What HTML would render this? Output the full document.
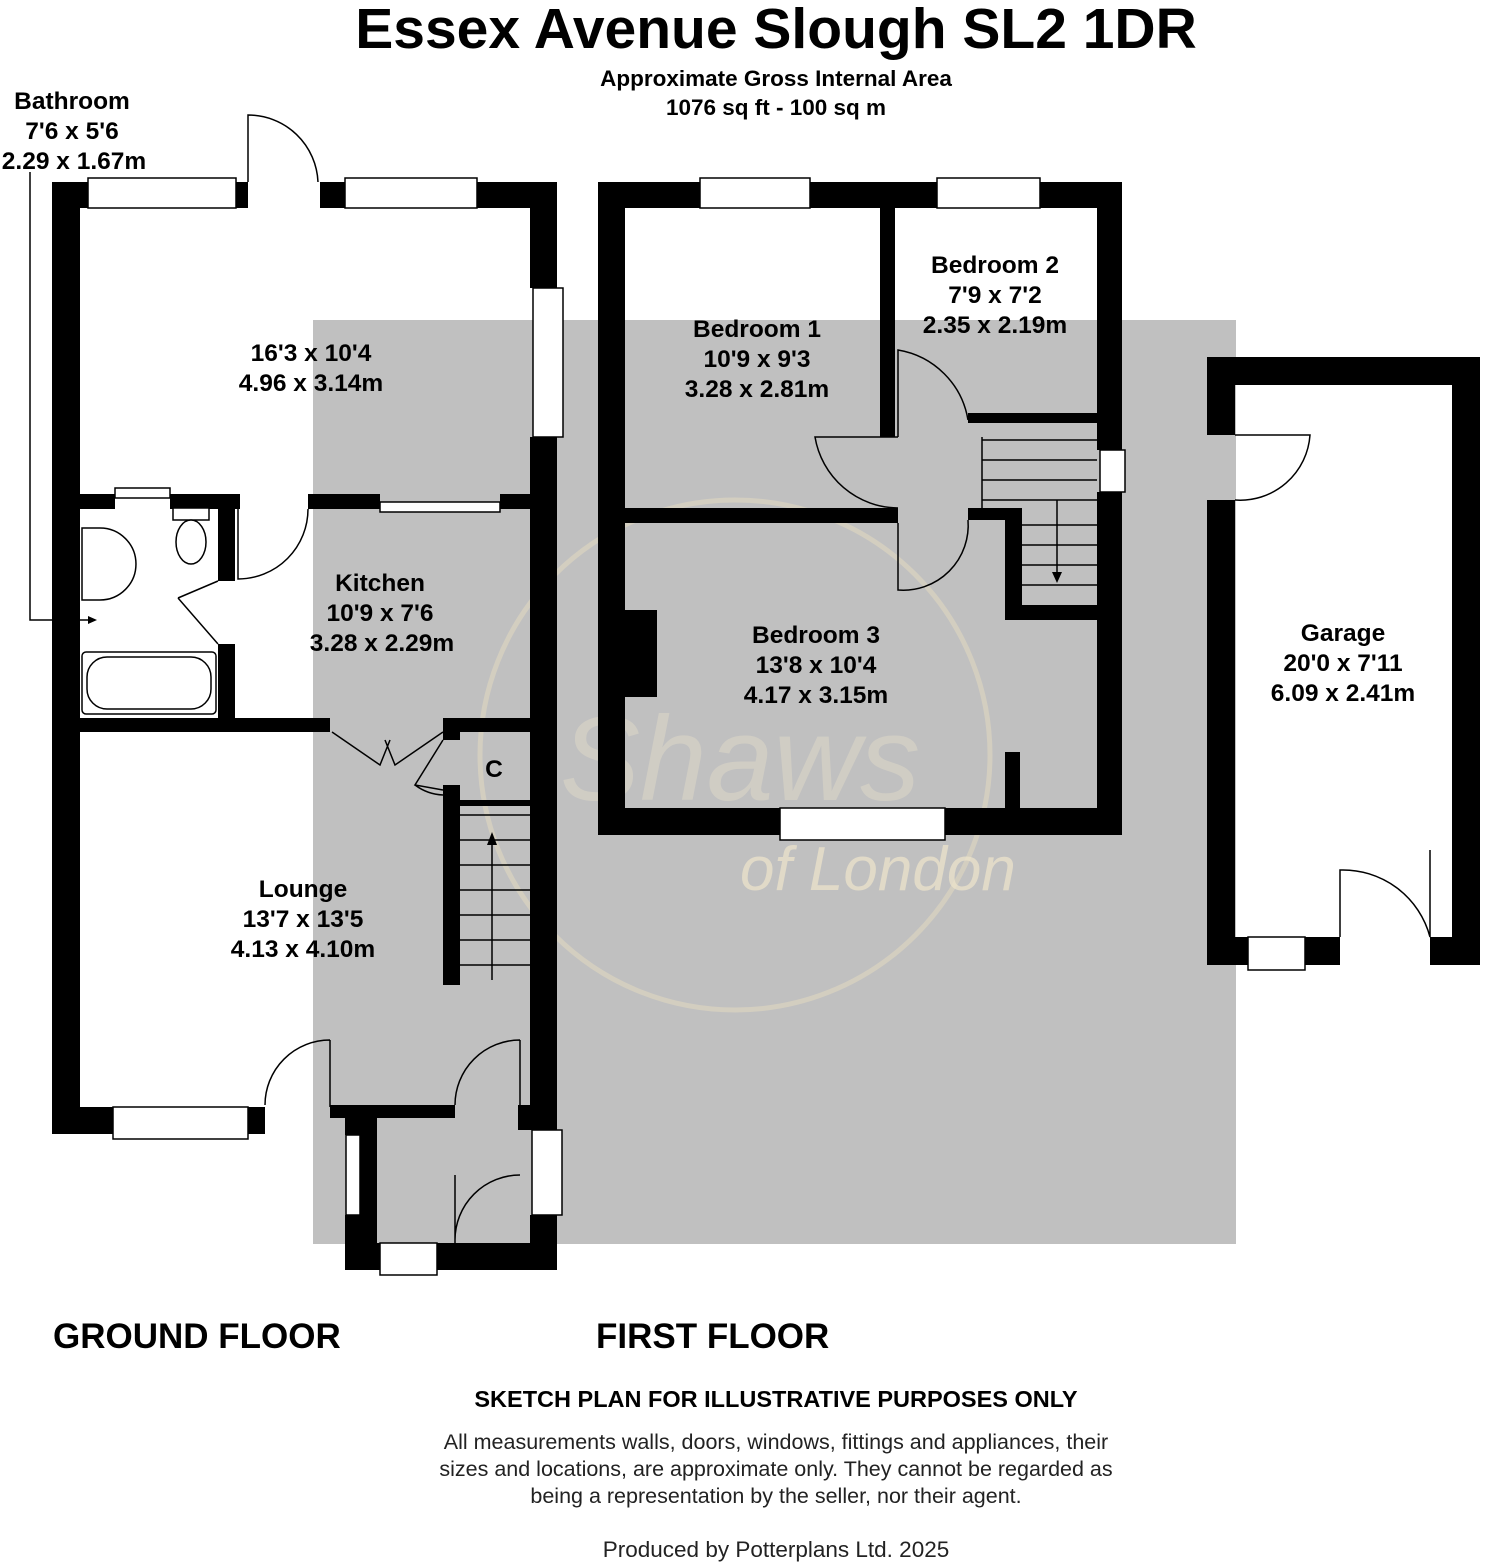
<!DOCTYPE html>
<html><head><meta charset="utf-8"><style>
html,body{margin:0;padding:0;background:#fff}
svg{display:block}
text{font-family:"Liberation Sans",Arial,sans-serif}
</style></head><body>
<svg width="1488" height="1568" viewBox="0 0 1488 1568" xmlns="http://www.w3.org/2000/svg">
<rect width="1488" height="1568" fill="#fff"/>
<rect x="313" y="320" width="923" height="924" fill="#c0c0c0"/>
<circle cx="735" cy="755" r="255" fill="none" stroke="#e6dcc0" stroke-width="5" opacity="0.5"/>
<text x="740" y="890" font-family="Liberation Serif,serif" font-style="italic" font-size="62" fill="#efe6cc" opacity="0.7">of London</text>
<text x="560" y="800" font-family="Liberation Serif,serif" font-style="italic" font-size="120" fill="#efe6cc" opacity="0.35">Shaws</text>

<g fill="#000">
<rect x="52" y="182" width="36" height="26"/>
<rect x="236" y="182" width="12" height="26"/>
<rect x="320" y="182" width="25" height="26"/>
<rect x="477" y="182" width="80" height="26"/>
<rect x="530" y="182" width="27" height="106"/>
<rect x="530" y="437" width="27" height="693"/>
<rect x="530" y="1215" width="27" height="55"/>
<rect x="52" y="182" width="28" height="952"/>
<rect x="52" y="1107" width="61" height="27"/>
<rect x="248" y="1107" width="17" height="27"/>
<rect x="330" y="1105" width="125" height="13"/>
<rect x="518" y="1105" width="14" height="13"/>
<rect x="345" y="1118" width="32" height="17"/>
<rect x="360" y="1135" width="17" height="80"/>
<rect x="345" y="1215" width="32" height="55"/>
<rect x="345" y="1243" width="35" height="27"/>
<rect x="437" y="1243" width="120" height="27"/>
<rect x="518" y="1118" width="14" height="12"/>
<rect x="52" y="494" width="63" height="15"/>
<rect x="170" y="494" width="70" height="15"/>
<rect x="308" y="494" width="72" height="15"/>
<rect x="500" y="494" width="57" height="15"/>
<rect x="218" y="509" width="17" height="72"/>
<rect x="218" y="644" width="17" height="88"/>
<rect x="52" y="718" width="278" height="14"/>
<rect x="443" y="718" width="114" height="14"/>
<rect x="443" y="718" width="17" height="22"/>
<rect x="443" y="785" width="17" height="200"/>
<rect x="455" y="800" width="75" height="6"/>

<rect x="598" y="182" width="102" height="26"/>
<rect x="810" y="182" width="127" height="26"/>
<rect x="1040" y="182" width="82" height="26"/>
<rect x="598" y="182" width="27" height="653"/>
<rect x="1097" y="182" width="25" height="268"/>
<rect x="1097" y="492" width="25" height="343"/>
<rect x="598" y="808" width="182" height="27"/>
<rect x="945" y="808" width="177" height="27"/>
<rect x="880" y="208" width="15" height="229"/>
<rect x="625" y="508" width="273" height="15"/>
<rect x="968" y="413" width="129" height="10"/>
<rect x="968" y="508" width="54" height="12"/>
<rect x="1005" y="508" width="17" height="112"/>
<rect x="1005" y="605" width="92" height="15"/>
<rect x="625" y="610" width="32" height="87"/>
<rect x="1005" y="752" width="15" height="60"/>

<rect x="1207" y="357" width="273" height="28"/>
<rect x="1207" y="357" width="28" height="78"/>
<rect x="1207" y="500" width="28" height="465"/>
<rect x="1452" y="357" width="28" height="608"/>
<rect x="1207" y="937" width="41" height="28"/>
<rect x="1305" y="937" width="35" height="28"/>
<rect x="1430" y="937" width="50" height="28"/>
</g>

<g fill="#fff" stroke="#000" stroke-width="1.5">
<rect x="88" y="178" width="148" height="30"/>
<rect x="345" y="178" width="132" height="30"/>
<rect x="533" y="288" width="30" height="149"/>
<rect x="380" y="502" width="120" height="10"/>
<rect x="115" y="488" width="55" height="10"/>
<rect x="113" y="1107" width="135" height="32"/>
<rect x="346" y="1135" width="14" height="80"/>
<rect x="532" y="1130" width="30" height="85"/>
<rect x="380" y="1243" width="57" height="32"/>
<rect x="700" y="178" width="110" height="30"/>
<rect x="937" y="178" width="103" height="30"/>
<rect x="1100" y="450" width="25" height="42"/>
<rect x="780" y="808" width="165" height="32"/>
<rect x="1248" y="937" width="57" height="33"/>
</g>

<g fill="none" stroke="#000" stroke-width="1.5">
<path d="M248 182 V115 A70 70 0 0 1 318 182"/>
<path d="M308 509 A70 70 0 0 1 238 579 V509"/>
<path d="M178 598 L218 581 M178 598 L218 644"/>
<path d="M330 1040 V1107 M330 1040 A65 65 0 0 0 265 1105"/>
<path d="M520 1040 V1105 M520 1040 A65 65 0 0 0 455 1105"/>
<path d="M455 1243 V1175 M520 1175 A65 65 0 0 0 455 1240"/>
<path d="M332 732 L380 765 L390 740 M443 732 L395 765 L385 740"/>
<path d="M443 740 L415 785 L443 790 M415 785 A50 50 0 0 0 443 795"/>
<path d="M30 172 V620 H95"/>
<path d="M898 437 V350 A85 85 0 0 1 968 420"/>
<path d="M898 437 H815 A85 85 0 0 0 898 508"/>
<path d="M898 523 V590 A65 65 0 0 0 968 520"/>
<path d="M1235 435 H1310 A70 70 0 0 1 1235 500"/>
<path d="M1340 937 V870 A90 90 0 0 1 1430 937 V850"/>
<path d="M455 815 H530 M455 840 H530 M455 865 H530 M455 890 H530 M455 915 H530 M455 940 H530 M455 965 H530 M492 980 V835"/>
<path d="M982 440 H1097 M982 460 H1097 M982 480 H1097 M982 500 H1097 M1022 525 H1097 M1022 545 H1097 M1022 565 H1097 M1022 585 H1097 M982 437 V508 M1057 500 V580"/>
</g>
<polygon points="492,832 487,845 497,845" fill="#000"/>
<polygon points="1057,583 1052,572 1062,572" fill="#000"/>
<polygon points="97,620 88,616 88,624" fill="#000"/>

<g fill="#fff" stroke="#000" stroke-width="1.5">
<rect x="82" y="652" width="134" height="62" rx="4"/>
<rect x="87" y="657" width="124" height="52" rx="20"/>
<path d="M82 528 H100 A35 35 0 0 1 100 600 H82 Z"/>
<rect x="173" y="508" width="36" height="12"/>
<ellipse cx="191" cy="542" rx="15" ry="22"/>
</g>

<g font-weight="bold" fill="#000" text-anchor="middle">
<text x="776" y="48" font-size="57">Essex Avenue Slough SL2 1DR</text>
<text x="776" y="86" font-size="22.5">Approximate Gross Internal Area</text>
<text x="776" y="115" font-size="22.5">1076 sq ft - 100 sq m</text>
<g font-size="24.5">
<text x="72" y="109">Bathroom</text><text x="72" y="139">7'6 x 5'6</text><text x="74" y="169">2.29 x 1.67m</text>
<text x="311" y="361">16'3 x 10'4</text><text x="311" y="391">4.96 x 3.14m</text>
<text x="380" y="591">Kitchen</text><text x="380" y="621">10'9 x 7'6</text><text x="382" y="651">3.28 x 2.29m</text>
<text x="494" y="777">C</text>
<text x="303" y="897">Lounge</text><text x="303" y="927">13'7 x 13'5</text><text x="303" y="957">4.13 x 4.10m</text>
<text x="757" y="337">Bedroom 1</text><text x="757" y="367">10'9 x 9'3</text><text x="757" y="397">3.28 x 2.81m</text>
<text x="995" y="273">Bedroom 2</text><text x="995" y="303">7'9 x 7'2</text><text x="995" y="333">2.35 x 2.19m</text>
<text x="816" y="643">Bedroom 3</text><text x="816" y="673">13'8 x 10'4</text><text x="816" y="703">4.17 x 3.15m</text>
<text x="1343" y="641">Garage</text><text x="1343" y="671">20'0 x 7'11</text><text x="1343" y="701">6.09 x 2.41m</text>
</g>
<text x="776" y="1407" font-size="23.5">SKETCH PLAN FOR ILLUSTRATIVE PURPOSES ONLY</text>
</g>
<g font-weight="bold" font-size="35" fill="#000">
<text x="53" y="1348">GROUND FLOOR</text>
<text x="596" y="1348">FIRST FLOOR</text>
</g>
<g font-size="21.5" fill="#222" text-anchor="middle">
<text x="776" y="1449">All measurements walls, doors, windows, fittings and appliances, their</text>
<text x="776" y="1476">sizes and locations, are approximate only. They cannot be regarded as</text>
<text x="776" y="1503">being a representation by the seller, nor their agent.</text>
<text x="776" y="1557" font-size="22.5">Produced by Potterplans Ltd. 2025</text>
</g>
</svg>
</body></html>
